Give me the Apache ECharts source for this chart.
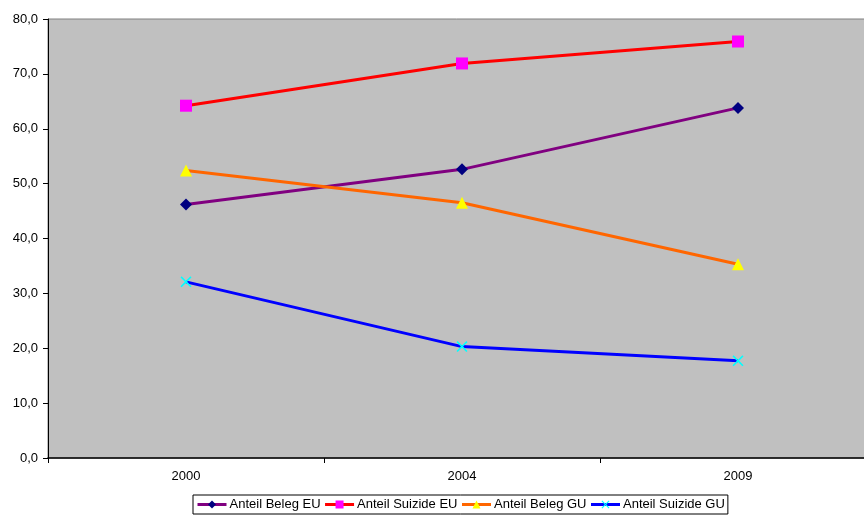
<!DOCTYPE html>
<html>
<head>
<meta charset="utf-8">
<script src="https://cdn.jsdelivr.net/npm/echarts@6/dist/echarts.min.js"></script>
<style>
  html, body { margin: 0; padding: 0; background: #fff; }
  #chart { width: 864px; height: 515px; }
</style>
</head>
<body>
<div id="chart"></div>
<script>
// Survey years on the category axis
const years = ['2000', '2004', '2009'];

// Shares in percent per year
const anteilBelegEU   = [46.2, 52.6, 63.8];
const anteilSuizideEU = [64.2, 71.9, 75.9];
const anteilBelegGU   = [52.4, 46.5, 35.3];
const anteilSuizideGU = [32.1, 20.3, 17.7];

// Value axis range and step
const yMin = 0, yMax = 80, yStep = 10;

// Filled "x" cross used as the marker of the last series
const crossPath = 'path://M0,1L1,0L5,4L9,0L10,1L6,5L10,9L9,10L5,6L1,10L0,9L4,5Z';

function lineSeries(name, data, lineColor, symbol, symbolColor, size) {
  return {
    name: name,
    type: 'line',
    data: data,
    symbol: symbol,
    symbolSize: size,
    lineStyle: { color: lineColor, width: 3 },
    itemStyle: { color: symbolColor, borderWidth: 0 },
    emphasis: { disabled: true },
    animation: false
  };
}

const chart = echarts.init(document.getElementById('chart'), null, { renderer: 'canvas' });
chart.setOption({
  backgroundColor: '#ffffff',
  textStyle: { fontFamily: 'Liberation Sans, Arial, sans-serif' },
  grid: {
    left: 48, top: 19, width: 828, height: 439,
    outerBoundsMode: 'none',
    containLabel: false,
    show: true, backgroundColor: '#C0C0C0', borderColor: '#808080', borderWidth: 1
  },
  xAxis: {
    type: 'category',
    data: years,
    boundaryGap: true,
    axisLine: { lineStyle: { color: '#000', width: 1.5 } },
    axisTick: { show: true, length: 5, lineStyle: { color: '#000' } },
    axisLabel: { color: '#000', fontSize: 13, margin: 12 },
    splitLine: { show: false }
  },
  yAxis: {
    type: 'value',
    min: yMin, max: yMax, interval: yStep,
    axisLine: { show: true, lineStyle: { color: '#000', width: 1 } },
    axisTick: { show: true, length: 5, lineStyle: { color: '#000' } },
    axisLabel: {
      color: '#000', fontSize: 13, margin: 10,
      formatter: v => v.toFixed(1).replace('.', ',')
    },
    splitLine: { show: false }
  },
  legend: {
    left: 193, top: 495,
    padding: [3, 3, 3, 3],
    itemGap: 3,
    itemWidth: 29, itemHeight: 10,
    borderColor: '#000', borderWidth: 1,
    lineStyle: { width: 3 },
    textStyle: { color: '#000', fontSize: 13, padding: [0, 0, 0, -2] },
    data: ['Anteil Beleg EU', 'Anteil Suizide EU', 'Anteil Beleg GU', 'Anteil Suizide GU']
  },
  series: [
    lineSeries('Anteil Beleg EU', anteilBelegEU, '#800080', 'diamond', '#000080', 12),
    lineSeries('Anteil Suizide EU', anteilSuizideEU, '#FF0000', 'rect', '#FF00FF', 12),
    lineSeries('Anteil Beleg GU', anteilBelegGU, '#FF6600', 'triangle', '#FFFF00', 12),
    lineSeries('Anteil Suizide GU', anteilSuizideGU, '#0000FF', crossPath, '#00FFFF', 11)
  ]
});
</script>
</body>
</html>
